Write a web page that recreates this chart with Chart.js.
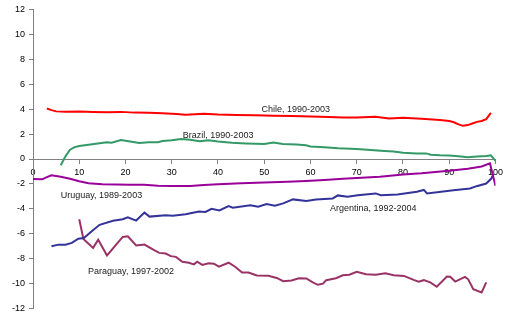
<!DOCTYPE html>
<html>
<head>
<meta charset="utf-8">
<script src="https://cdn.jsdelivr.net/npm/chart.js@4/dist/chart.umd.min.js"></script>
<style>
  body { margin: 0; background: #fff; }
  #wrap { width: 507px; height: 318px; }
</style>
</head>
<body>
<div id="wrap"><canvas id="myChart"></canvas></div>
<script>
// [percentile, value] pairs
const chile = [[3,4.05],[4,3.92],[5,3.82],[7,3.8],[10,3.82],[13,3.78],[16,3.76],[19,3.78],[22,3.72],[25,3.7],
  [28,3.66],[31,3.6],[33,3.55],[37,3.63],[40,3.56],[44,3.53],[48,3.5],[52,3.47],[56,3.44],[60,3.4],
  [64,3.36],[67,3.32],[70,3.33],[74,3.38],[77,3.25],[80,3.3],[84,3.22],[88,3.12],[90,3.05],[91,2.95],
  [92,2.78],[93,2.66],[94,2.72],[95,2.85],[96,2.98],[97,3.05],[98,3.2],[99,3.7]];

const brazil = [[6,-0.5],[7,0.2],[8,0.75],[9,0.95],[10,1.05],[12,1.15],[14,1.25],[16,1.35],[17,1.3],[19,1.52],
  [21,1.4],[23,1.28],[25,1.35],[27,1.35],[28,1.45],[30,1.5],[32,1.6],[34,1.55],[36,1.42],[38,1.5],
  [40,1.4],[43,1.3],[46,1.25],[50,1.2],[52,1.33],[54,1.2],[57,1.17],[59,1.1],[60,1.0],[63,0.95],
  [66,0.86],[70,0.8],[73,0.73],[76,0.65],[78,0.6],[80,0.5],[83,0.45],[85,0.45],[86,0.35],[88,0.3],
  [90,0.28],[92,0.22],[94,0.15],[96,0.2],[98,0.25],[99,0.3],[100,-0.15]];

const uruguay = [[0,-1.6],[2,-1.63],[3,-1.45],[4,-1.31],[6,-1.42],[8,-1.58],[10,-1.78],[12,-1.95],[15,-2.02],[18,-2.05],
  [21,-2.07],[24,-2.06],[27,-2.14],[30,-2.17],[34,-2.16],[37,-2.08],[40,-2.02],[45,-1.95],[50,-1.89],[55,-1.82],
  [59,-1.76],[63,-1.68],[67,-1.58],[71,-1.5],[75,-1.42],[80,-1.25],[84,-1.15],[87,-1.05],[90,-0.95],[94,-0.78],
  [97,-0.6],[98.8,-0.35],[100,-2.15]];

const argentina = [[4,-7.0],[5.5,-6.87],[7,-6.87],[8.4,-6.73],[9.8,-6.39],[11,-6.34],[12.7,-5.8],[14.4,-5.28],[17.3,-4.96],[19.4,-4.83],
  [20.5,-4.67],[22.3,-4.94],[24.1,-4.3],[25.2,-4.62],[28.7,-4.51],[30.2,-4.55],[33,-4.44],[35.9,-4.22],[37.3,-4.25],[38.6,-4.0],
  [40.3,-4.12],[42.3,-3.77],[43.2,-3.9],[47,-3.72],[48.7,-3.82],[50.5,-3.61],[52.3,-3.74],[54.1,-3.56],[56.2,-3.24],[59.1,-3.37],
  [61.2,-3.24],[64.8,-3.16],[65.9,-2.92],[68,-3.03],[70.2,-2.9],[74.1,-2.76],[75.2,-2.9],[78.8,-2.85],[83,-2.63],[84.5,-2.48],
  [85.2,-2.76],[90.9,-2.5],[94.5,-2.37],[95.9,-2.18],[98,-1.97],[99.1,-1.57],[99.6,-1.2]];

const paraguay = [[10,-4.83],[10.9,-6.41],[13,-7.13],[14.1,-6.47],[16,-7.74],[19.4,-6.25],[20.5,-6.2],[22.3,-6.94],[24.1,-6.86],[26.2,-7.31],
  [27.3,-7.53],[28.7,-7.58],[29.8,-7.79],[30.9,-7.85],[32.3,-8.24],[33.7,-8.32],[34.8,-8.45],[35.5,-8.24],[36.6,-8.5],[38,-8.37],
  [39.1,-8.4],[40.2,-8.64],[42.3,-8.32],[43.7,-8.64],[45.2,-9.11],[46.6,-9.11],[48.4,-9.35],[50.9,-9.36],[52.7,-9.54],[54.1,-9.8],
  [55.9,-9.75],[57.5,-9.56],[59.1,-9.58],[60.5,-9.9],[61.6,-10.09],[62.7,-10.0],[63.4,-9.72],[65.5,-9.56],[67,-9.33],[68.4,-9.28],
  [70,-9.04],[72,-9.25],[74.1,-9.28],[76.2,-9.17],[78,-9.33],[80.2,-9.38],[82.3,-9.7],[83.4,-9.85],[84.5,-9.72],[85.9,-9.9],
  [87.3,-10.25],[89.5,-9.43],[90.2,-9.45],[91.3,-9.83],[93.4,-9.46],[94.1,-9.65],[95.2,-10.44],[97,-10.7],[98,-9.9]];

const seriesNames = ['Chile, 1990-2003', 'Brazil, 1990-2003', 'Uruguay, 1989-2003', 'Argentina, 1992-2004', 'Paraguay, 1997-2002'];
const seriesData = [chile, brazil, uruguay, argentina, paraguay];
const seriesColors = ['#ff0000', '#339966', '#990099', '#333399', '#993366'];
// where each name sits, in data units (left edge, middle of text)
const labelSpots = [[49.4, 3.93], [32.4, 1.92], [6.0, -2.95], [64.2, -3.95], [11.9, -9.03]];

Chart.defaults.font.family = "'Liberation Sans', Arial, sans-serif";
Chart.defaults.font.size = 9;
Chart.defaults.color = '#000';

const seriesLabels = {
    id: 'seriesLabels',
    afterDatasetsDraw(chart) {
        const ctx = chart.ctx;
        const xs = chart.scales.x, ys = chart.scales.y;
        ctx.save();
        ctx.font = "9px 'Liberation Sans', Arial, sans-serif";
        ctx.fillStyle = '#222';
        ctx.textAlign = 'left';
        ctx.textBaseline = 'middle';
        seriesNames.forEach((name, i) => {
            ctx.fillText(name, xs.getPixelForValue(labelSpots[i][0]), ys.getPixelForValue(labelSpots[i][1]));
        });
        ctx.restore();
    }
};

new Chart(document.getElementById('myChart'), {
    type: 'line',
    data: {
        datasets: seriesData.map((d, i) => ({
            label: seriesNames[i],
            data: d.map(p => ({ x: p[0], y: p[1] })),
            borderColor: seriesColors[i],
            borderWidth: 2,
            pointRadius: 0,
            tension: 0,
            fill: false
        }))
    },
    options: {
        responsive: true,
        maintainAspectRatio: false,
        animation: false,
        layout: { padding: { top: 7, right: 8, bottom: 8, left: 0 } },
        plugins: {
            legend: { display: false },
            tooltip: { enabled: false }
        },
        scales: {
            x: {
                type: 'linear',
                position: { y: 0 },
                min: 0,
                max: 100,
                grid: { drawOnChartArea: false, tickLength: 4, color: '#808080' },
                border: { color: '#808080' },
                ticks: { stepSize: 10, padding: 4, maxRotation: 0 }
            },
            y: {
                position: 'left',
                min: -12,
                max: 12,
                grid: { drawOnChartArea: false, tickLength: 4, color: '#808080' },
                border: { color: '#808080' },
                ticks: { stepSize: 2, padding: 4 },
                afterFit(scale) { scale.width = 33; }
            }
        }
    },
    plugins: [seriesLabels]
});
</script>
</body>
</html>
